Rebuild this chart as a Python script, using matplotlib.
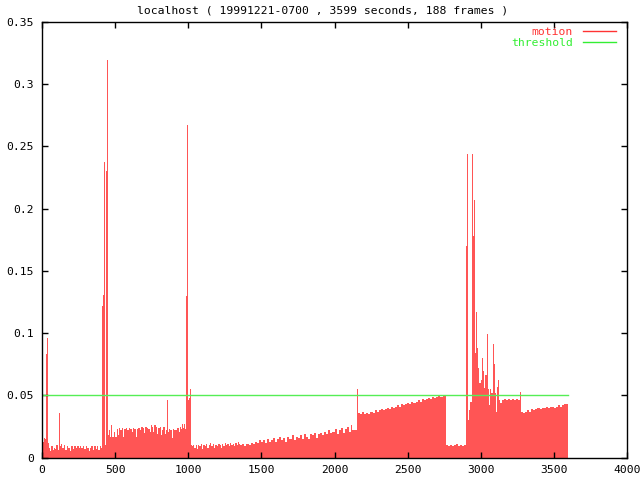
import matplotlib
matplotlib.use("Agg")
import matplotlib.pyplot as plt
from matplotlib.lines import Line2D

# motion samples: start time (s) of each step and its value
t_start = [0, 8, 15, 22, 27, 33, 39,
           45, 55, 62, 72, 80, 90, 98, 106, 114, 118, 123, 130, 140, 150, 160, 170, 180, 190,
           200, 210, 220, 230, 240, 250, 260, 270, 280, 290, 300, 310, 320, 328, 338, 348, 356,
           366, 376, 386, 394, 402,
           408, 413, 420, 426, 433, 438, 445, 451,
           460, 466, 475, 480, 490, 500, 510, 520, 528, 536, 545, 555, 562, 572, 582, 592, 602,
           612, 620, 630, 640, 648, 658, 668, 678, 688, 698, 706, 716, 726, 736, 744, 752, 760,
           768, 778, 786, 794, 804, 812, 820, 830, 838, 846, 854, 859, 866, 876, 886, 894, 904,
           914, 924, 934, 942, 950, 958, 966, 974, 980,
           985, 991, 998, 1004, 1010, 1016,
           1024, 1032, 1040, 1050, 1058, 1066, 1076, 1084, 1094, 1102, 1112, 1120, 1130, 1140,
           1150, 1158, 1168, 1176, 1186, 1196, 1204, 1214, 1222, 1232, 1240, 1250, 1258, 1268,
           1276, 1286, 1294, 1304, 1312, 1322, 1330, 1340, 1348,
           1356, 1370, 1384, 1398, 1412, 1426, 1440, 1454, 1468, 1482, 1496, 1510, 1524, 1538,
           1552, 1566, 1580, 1594, 1608, 1622, 1636, 1650, 1664, 1678, 1692, 1706, 1720, 1734,
           1748, 1762, 1776, 1790, 1804, 1818, 1832, 1846, 1860, 1874, 1888, 1902, 1916, 1930,
           1944, 1958, 1972, 1986, 2000, 2014, 2028, 2042, 2056, 2070, 2084, 2098, 2110, 2122,
           2140, 2156, 2164,
           2176, 2190, 2204, 2218, 2232, 2246, 2260, 2274, 2288, 2302, 2316, 2330, 2344, 2358,
           2372, 2386, 2400, 2414, 2428, 2442, 2456, 2470, 2484, 2498, 2512, 2526, 2540, 2554,
           2568, 2582, 2596, 2610, 2624, 2638, 2652, 2666, 2680, 2694, 2708, 2722, 2740,
           2762, 2776, 2790, 2804, 2818, 2832, 2846, 2860, 2874, 2888,
           2897, 2906, 2913, 2920, 2928, 2938, 2945, 2954, 2961, 2968, 2977, 2983, 2990, 3000,
           3009, 3016, 3022, 3032, 3045, 3050, 3058, 3063, 3070, 3082, 3090, 3097, 3105, 3113,
           3120, 3128, 3134, 3146, 3160, 3174, 3188, 3202, 3216, 3230, 3244, 3258, 3266, 3274,
           3290, 3304, 3318, 3332, 3346, 3360, 3374, 3388, 3402, 3416, 3430, 3444, 3458, 3472,
           3486, 3500, 3514, 3528, 3542, 3556, 3570, 3584]
t_end = 3599

motion = [0.014, 0.013, 0.016, 0.015, 0.083, 0.096, 0.012,
          0.008, 0.005, 0.009, 0.006, 0.008, 0.007, 0.010, 0.006, 0.009, 0.036, 0.009, 0.011,
          0.008, 0.010, 0.006, 0.009, 0.008, 0.005,
          0.009, 0.007, 0.009, 0.008, 0.009, 0.008, 0.009, 0.008, 0.009, 0.007, 0.009, 0.008,
          0.005, 0.008, 0.009, 0.006, 0.009,
          0.007, 0.009, 0.006, 0.009, 0.008,
          0.019, 0.122, 0.131, 0.237, 0.010, 0.230, 0.319, 0.018,
          0.022, 0.017, 0.026, 0.017, 0.021, 0.017, 0.023, 0.018, 0.024, 0.022, 0.024, 0.017,
          0.023, 0.024, 0.022, 0.024, 0.023,
          0.021, 0.024, 0.023, 0.017, 0.023, 0.024, 0.022, 0.025, 0.024, 0.020, 0.025, 0.024,
          0.023, 0.021, 0.026, 0.025, 0.021,
          0.026, 0.025, 0.019, 0.024, 0.025, 0.018, 0.022, 0.025, 0.019, 0.022, 0.046, 0.021,
          0.023, 0.022, 0.016, 0.023, 0.022,
          0.022, 0.024, 0.021, 0.025, 0.023, 0.027, 0.024, 0.027, 0.023,
          0.130, 0.267, 0.046, 0.048, 0.055, 0.010,
          0.009, 0.010, 0.008, 0.010, 0.007, 0.010, 0.009, 0.011, 0.007, 0.010, 0.009, 0.011,
          0.008, 0.010,
          0.012, 0.009, 0.011, 0.008, 0.010, 0.009, 0.011, 0.010, 0.008, 0.011, 0.009, 0.012,
          0.010, 0.011,
          0.009, 0.012, 0.010, 0.011, 0.009, 0.012, 0.010, 0.013, 0.011,
          0.010, 0.011, 0.009, 0.011, 0.010, 0.012, 0.011, 0.013, 0.012, 0.014, 0.013, 0.014,
          0.012, 0.015,
          0.013, 0.014, 0.016, 0.013, 0.015, 0.017, 0.014, 0.016, 0.013, 0.017, 0.015, 0.018,
          0.014, 0.017,
          0.016, 0.018, 0.015, 0.019, 0.017, 0.015, 0.019, 0.018, 0.020, 0.016, 0.019, 0.020,
          0.018, 0.021,
          0.019, 0.022, 0.020, 0.021, 0.023, 0.019, 0.022, 0.024, 0.020, 0.023, 0.025, 0.021,
          0.026, 0.022,
          0.022, 0.055, 0.036,
          0.035, 0.037, 0.035, 0.036, 0.035, 0.037, 0.036, 0.038, 0.037, 0.038, 0.039, 0.038,
          0.039, 0.040,
          0.039, 0.041, 0.040, 0.041, 0.042, 0.041, 0.043, 0.042, 0.043, 0.044, 0.043, 0.045,
          0.044, 0.045,
          0.046, 0.045, 0.047, 0.046, 0.047, 0.048, 0.047, 0.049, 0.048, 0.049, 0.050, 0.049,
          0.050,
          0.010, 0.009, 0.010, 0.009, 0.010, 0.011, 0.009, 0.010, 0.009, 0.010,
          0.170, 0.244, 0.030, 0.038, 0.045, 0.244, 0.178, 0.207, 0.084, 0.117, 0.088, 0.072,
          0.060, 0.062,
          0.080, 0.070, 0.056, 0.066, 0.099, 0.055, 0.042, 0.055, 0.052, 0.091, 0.075, 0.052,
          0.037, 0.057,
          0.062, 0.046, 0.044, 0.046, 0.047, 0.046, 0.047, 0.046, 0.047, 0.046, 0.047, 0.046,
          0.053, 0.037,
          0.036, 0.037, 0.038, 0.037, 0.039, 0.038, 0.039, 0.040, 0.039, 0.040, 0.040, 0.041,
          0.040, 0.041,
          0.041, 0.040, 0.041, 0.042, 0.041, 0.042, 0.043, 0.043]

threshold = 0.05
x_ticks = [0, 500, 1000, 1500, 2000, 2500, 3000, 3500, 4000]
y_ticks = [0, 0.05, 0.1, 0.15, 0.2, 0.25, 0.3, 0.35]
y_labels = ["0", "0.05", "0.1", "0.15", "0.2", "0.25", "0.3", "0.35"]
title = "localhost ( 19991221-0700 , 3599 seconds, 188 frames )"

red = "#ff5555"
green = "#55ee55"
mono = "DejaVu Sans Mono"
fs = 8.2

fig = plt.figure(figsize=(6.4, 4.8), dpi=100)
ax = fig.add_axes([42 / 640, 1 - 457.7 / 480, 585 / 640, 436 / 480])

ax.stairs(motion, t_start + [t_end], fill=True, color=red, linewidth=0)
ax.plot([0, t_end], [threshold, threshold], color=green, linewidth=1)

ax.set_xlim(0, 4000)
ax.set_ylim(0, 0.35)
ax.set_xticks(x_ticks)
ax.set_xticklabels([str(v) for v in x_ticks], fontfamily=mono, fontsize=fs)
ax.set_yticks(y_ticks)
ax.set_yticklabels(y_labels, fontfamily=mono, fontsize=fs)
ax.tick_params(direction="in", length=4, width=1, top=True, right=True)
ax.tick_params(axis="y", pad=6)
ax.tick_params(axis="x", pad=5)
for s in ax.spines.values():
    s.set_linewidth(1)

fig.text(0.5 + 3 / 640, 1 - 10.5 / 480, title, ha="center", va="center",
         fontfamily=mono, fontsize=fs)

handles = [Line2D([], [], color="#ff3333", linewidth=1),
           Line2D([], [], color="#33ee33", linewidth=1)]
leg = ax.legend(handles, ["motion", "threshold"], loc="upper right",
                bbox_to_anchor=(1 - 11 / 585, 1 - 5 / 436), frameon=False,
                markerfirst=False, prop={"family": mono, "size": fs},
                handlelength=2.9, handletextpad=0.9, labelspacing=0.15,
                borderpad=0, borderaxespad=0, labelcolor="linecolor")

fig.savefig("out.png", dpi=100)
